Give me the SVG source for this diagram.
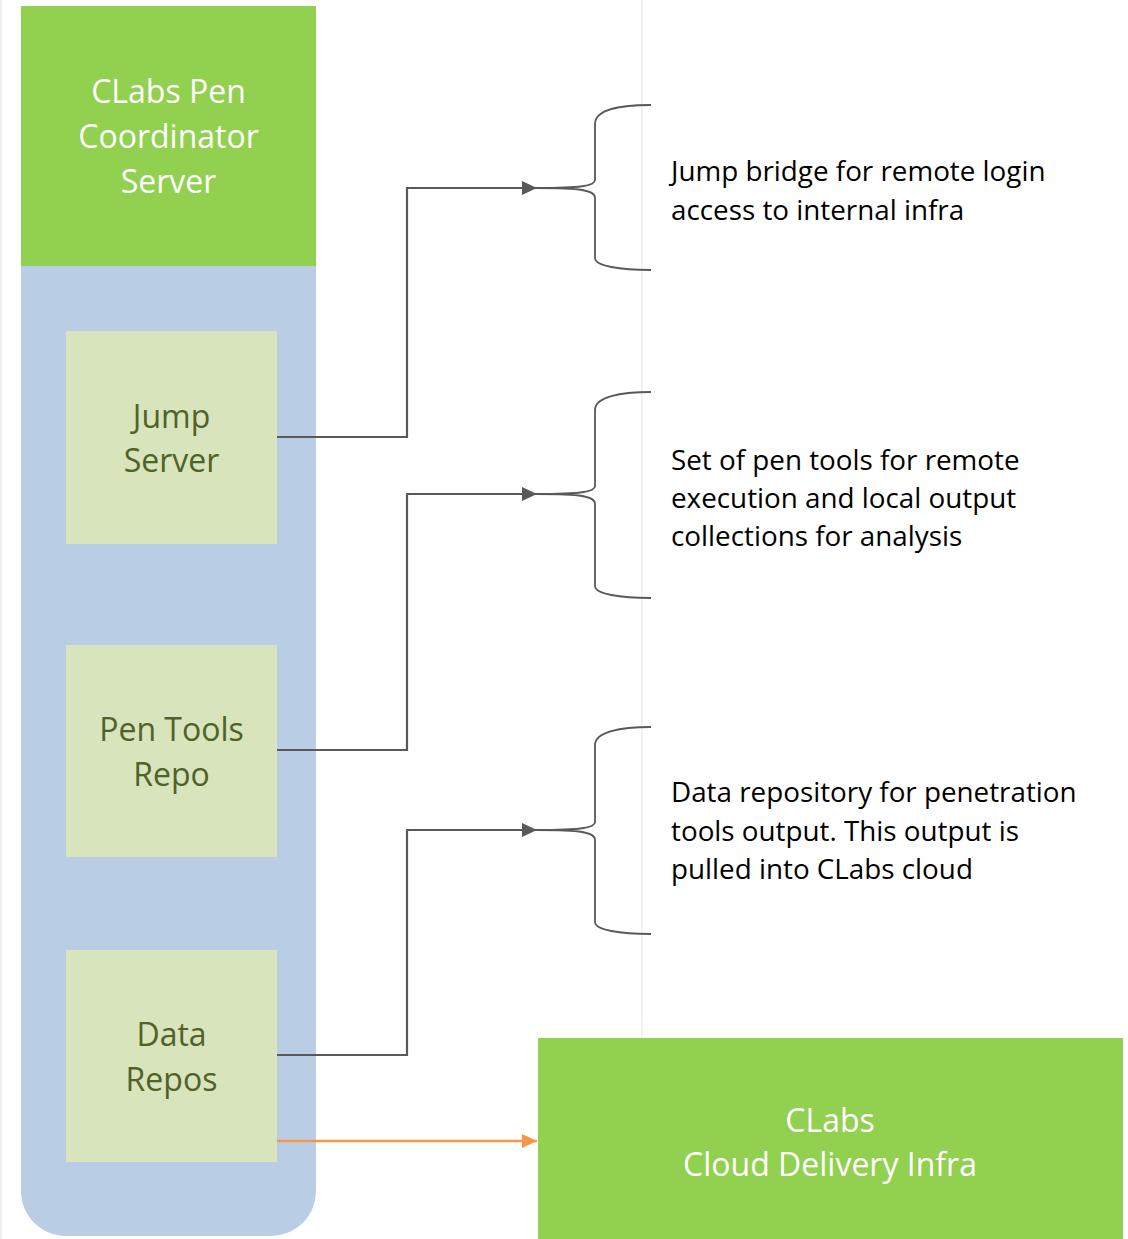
<svg xmlns="http://www.w3.org/2000/svg" width="1128" height="1239" viewBox="0 0 1128 1239">
<style>
.t{font-family:"Open Sans","Liberation Sans",sans-serif;}
.hw{fill:#ffffff;font-size:32px;text-anchor:middle;}
.in{fill:#4f6228;font-size:32px;text-anchor:middle;}
.desc{fill:#000000;font-size:27.8px;}
.conn{fill:none;stroke:#595959;stroke-width:2.2;}
.brace{fill:none;stroke:#595959;stroke-width:1.8;}
.inner{fill:#d8e4bc;}
</style>
<defs>
<marker id="ag" markerWidth="16" markerHeight="14" refX="15" refY="7" orient="auto" markerUnits="userSpaceOnUse"><path d="M0,0 L15,7 L0,14 Z" fill="#595959"/></marker>
<marker id="ao" markerWidth="16" markerHeight="14" refX="15" refY="7" orient="auto" markerUnits="userSpaceOnUse"><path d="M0,0 L15,7 L0,14 Z" fill="#f79646"/></marker>
</defs>
<rect width="1128" height="1239" fill="#ffffff"/>
<line x1="1" y1="0" x2="1" y2="1239" stroke="#efefef" stroke-width="2"/>
<line x1="642" y1="0" x2="642" y2="1038" stroke="#f2f2f2" stroke-width="2"/>
<g id="container">
<path d="M21,266 H316 V1191 A45,45 0 0 1 271,1236 H66 A45,45 0 0 1 21,1191 Z" fill="#b9cde5"/>
</g>
<g id="coordinator">
<rect x="21" y="6" width="295" height="260" fill="#92d050"/>
<text class="t hw" x="168.5" y="103">CLabs Pen</text>
<text class="t hw" x="168.5" y="148">Coordinator</text>
<text class="t hw" x="168.5" y="193">Server</text>
</g>
<g id="jump-server">
<rect class="inner" x="66" y="331" width="211" height="213"/>
<text class="t in" x="171.5" y="428">Jump</text>
<text class="t in" x="171.5" y="472">Server</text>
</g>
<g id="pen-tools">
<rect class="inner" x="66" y="645" width="211" height="212"/>
<text class="t in" x="171.5" y="741">Pen Tools</text>
<text class="t in" x="171.5" y="786">Repo</text>
</g>
<g id="data-repos">
<rect class="inner" x="66" y="950" width="211" height="212"/>
<text class="t in" x="171.5" y="1046">Data</text>
<text class="t in" x="171.5" y="1091">Repos</text>
</g>
<g id="cloud">
<rect x="538" y="1038" width="585" height="201" fill="#92d050"/>
<text class="t hw" x="830" y="1132">CLabs</text>
<text class="t hw" x="830" y="1176">Cloud Delivery Infra</text>
</g>
<g id="brace1">
<path class="brace" d="M537,188 C580,188 595,186 595,180 V124 C595,110 620,105 651,105"/>
<path class="brace" d="M537,188 C580,188 595,190 595,198 V258 C595,266 620,270 651,270"/>
<text class="t desc" x="671" y="181">Jump bridge for remote login</text>
<text class="t desc" x="671" y="220">access to internal infra</text>
</g>
<g id="brace2">
<path class="brace" d="M537,494 C580,494 595,492 595,486 V410 C595,397 620,392 651,392"/>
<path class="brace" d="M537,494 C580,494 595,496 595,504 V586 C595,594 620,598 651,598"/>
<text class="t desc" x="671" y="470">Set of pen tools for remote</text>
<text class="t desc" x="671" y="508">execution and local output</text>
<text class="t desc" x="671" y="546">collections for analysis</text>
</g>
<g id="brace3">
<path class="brace" d="M537,830 C580,830 595,828 595,822 V745 C595,732 620,727 651,727"/>
<path class="brace" d="M537,830 C580,830 595,832 595,840 V922 C595,930 620,934 651,934"/>
<text class="t desc" x="671" y="802">Data repository for penetration</text>
<text class="t desc" x="671" y="841">tools output. This output is</text>
<text class="t desc" x="671" y="879">pulled into CLabs cloud</text>
</g>
<g id="connectors">
<path class="conn" d="M277,437 H407 V188 H537" marker-end="url(#ag)"/>
<path class="conn" d="M277,750 H407 V494 H537" marker-end="url(#ag)"/>
<path class="conn" d="M277,1055 H407 V830 H537" marker-end="url(#ag)"/>
<path d="M277,1141 H537" fill="none" stroke="#f79646" stroke-width="2.6" marker-end="url(#ao)"/>
</g>
</svg>
